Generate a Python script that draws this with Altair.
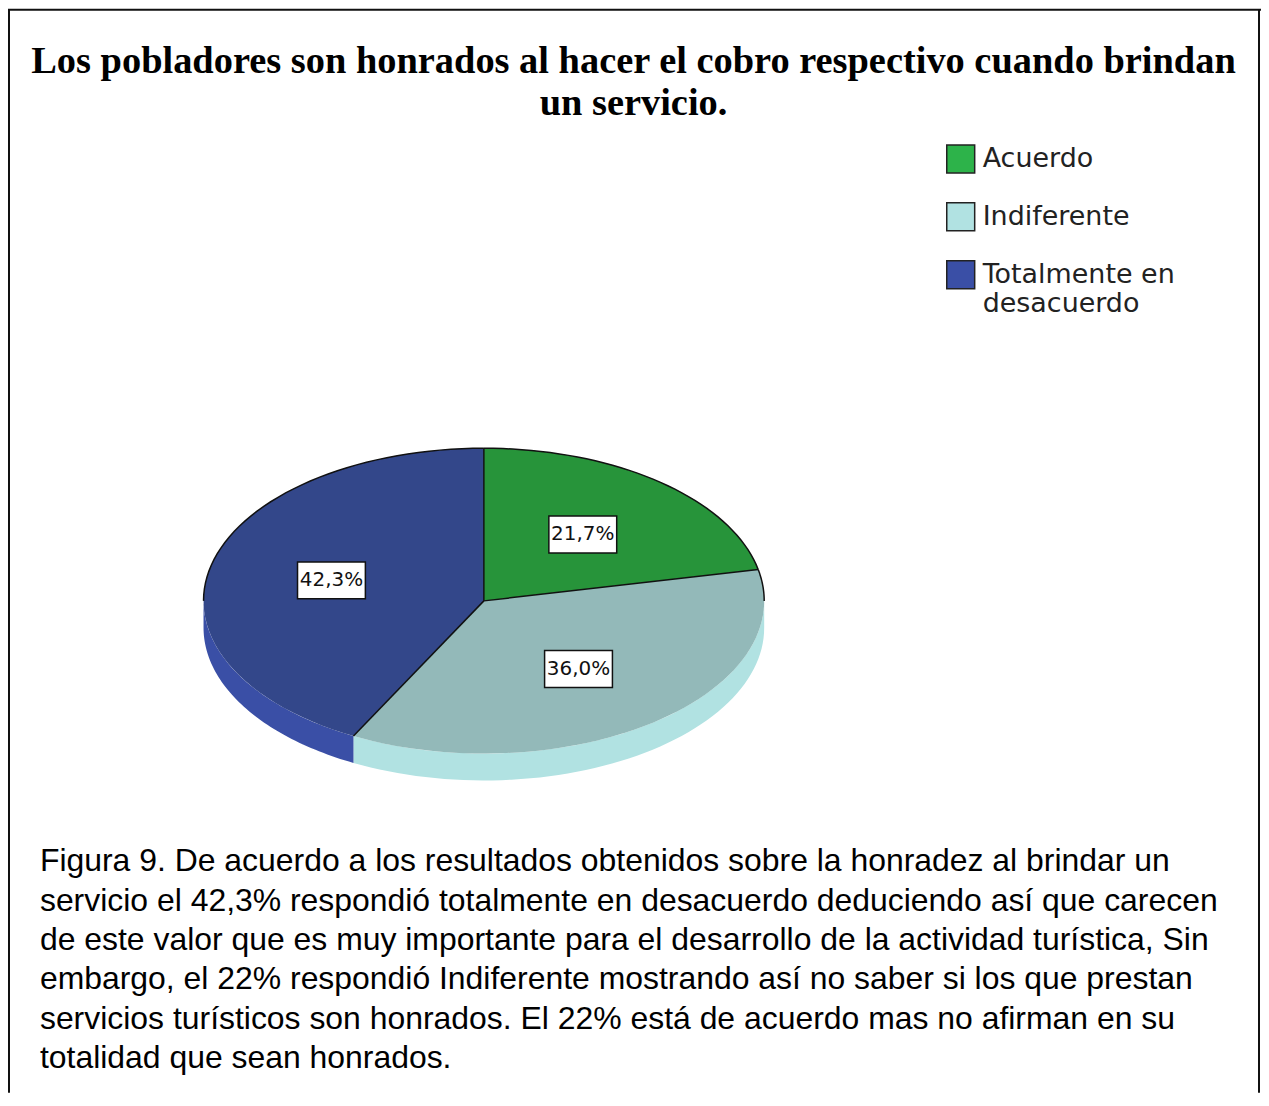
import altair as alt
import pandas as pd

# ---- data ----
categories = ["Acuerdo", "Indiferente", "Totalmente en desacuerdo"]
values = [21.7, 36.0, 42.3]
value_labels = ["21,7%", "36,0%", "42,3%"]
top_colors = ["#27943a", "#93b9b9", "#33478a"]
legend_colors = ["#2db34a", "#b1e2e2", "#3a4fa6"]

title_lines = [
    "Los pobladores son honrados al hacer el cobro respectivo cuando brindan",
    "un servicio.",
]
caption_lines = [
    "Figura 9. De acuerdo a los resultados obtenidos sobre la honradez al brindar un",
    "servicio el 42,3% respondió totalmente en desacuerdo deduciendo así que carecen",
    "de este valor que es muy importante para el desarrollo de la actividad turística, Sin",
    "embargo, el 22% respondió Indiferente mostrando así no saber si los que prestan",
    "servicios turísticos son honrados. El 22% está de acuerdo mas no afirman en su",
    "totalidad que sean honrados.",
]

# ---- layout ----
W, H = 1256, 1086
CX, CY = 477, 593      # pie centre (px in chart)
RX, RY = 281, 153      # ellipse radii (px)
DEPTH = 27 / RY        # side thickness in y units

xscale = alt.Scale(domain=[-CX / RX, (W - CX) / RX], nice=False, zero=False)
yscale = alt.Scale(domain=[-(H - CY) / RY, CY / RY], nice=False, zero=False)

df = pd.DataFrame({
    "category": categories,
    "value": values,
    "label": value_labels,
    "order": list(range(len(categories))),
})

base = alt.Chart(df).transform_window(
    cum="sum(value)", sort=[{"field": "order"}], frame=[None, 0]
).transform_calculate(
    a0="(datum.cum - datum.value) / 100 * 2 * PI",
    a1="datum.cum / 100 * 2 * PI",
)

X = alt.X("px:Q", scale=xscale, axis=None)
Y = alt.Y("py:Q", scale=yscale, axis=None)

# side (3D band) for the front half of the ellipse
side = base.transform_calculate(
    s0="max(datum.a0, PI / 2)", s1="min(datum.a1, 3 * PI / 2)"
).transform_filter("datum.s1 > datum.s0").transform_calculate(
    k="sequence(0, 122)"
).transform_flatten(["k"]).transform_calculate(
    ang="datum.k <= 60 ? datum.s0 + (datum.s1 - datum.s0) * datum.k / 60 : datum.s1 - (datum.s1 - datum.s0) * (datum.k - 61) / 60",
    px="sin(datum.ang)",
    py=f"cos(datum.ang) - (datum.k <= 60 ? 0 : {DEPTH})",
).mark_line(strokeOpacity=0, strokeWidth=0).encode(
    x=X, y=Y,
    fill=alt.Fill(
        "category:N",
        scale=alt.Scale(domain=categories, range=legend_colors),
        legend=alt.Legend(
            title=None, orient="none", legendX=940, legendY=135,
            symbolType="square", symbolSize=784, symbolStrokeColor="#222",
            symbolStrokeWidth=1.5, symbolOpacity=1,
            labelFont="DejaVu Sans", labelFontSize=27, labelColor="#222",
            labelOffset=7, labelLimit=0, rowPadding=24, padding=0,
            labelExpr="datum.label == 'Totalmente en desacuerdo' ? ['Totalmente en', 'desacuerdo'] : datum.label",
        ),
    ),
    detail="category:N",
    order="k:Q",
)

# top surface slices
top = base.transform_calculate(k="sequence(0, 63)").transform_flatten(["k"]).transform_calculate(
    ang="datum.a0 + (datum.a1 - datum.a0) * (datum.k - 1) / 60",
    px="(datum.k == 0 || datum.k == 62) ? 0 : sin(datum.ang)",
    py="(datum.k == 0 || datum.k == 62) ? 0 : cos(datum.ang)",
).mark_line(strokeOpacity=0, strokeWidth=0).encode(
    x=X, y=Y,
    fill=alt.Fill("category:N", scale=alt.Scale(domain=categories, range=top_colors), legend=None),
    detail="category:N",
    order="k:Q",
)

# back outline of the ellipse
arc = base.transform_calculate(seg="[0, 1]").transform_flatten(["seg"]).transform_calculate(
    b0="datum.seg == 0 ? max(datum.a0, 0) : max(datum.a0, 3 * PI / 2)",
    b1="datum.seg == 0 ? min(datum.a1, PI / 2) : min(datum.a1, 2 * PI)",
).transform_filter("datum.b1 > datum.b0").transform_calculate(
    k="sequence(0, 41)"
).transform_flatten(["k"]).transform_calculate(
    ang="datum.b0 + (datum.b1 - datum.b0) * datum.k / 40",
    px="sin(datum.ang)", py="cos(datum.ang)",
    grp="datum.category + '-' + datum.seg",
).mark_line(color="#111", strokeWidth=1.5).encode(
    x=X, y=Y, detail="grp:N", order="k:Q"
)

# radial slice edges
edges = base.transform_calculate(k="[0, 1]").transform_flatten(["k"]).transform_calculate(
    px="datum.k == 0 ? 0 : sin(datum.a0)",
    py="datum.k == 0 ? 0 : cos(datum.a0)",
).mark_line(color="#111", strokeWidth=1.5).encode(
    x=X, y=Y, detail="category:N", order="k:Q"
)

# value labels
lab = base.transform_calculate(
    mid="(datum.a0 + datum.a1) / 2",
    px="0.56 * sin(datum.mid)",
    py="0.56 * cos(datum.mid)",
)
boxes = lab.mark_rect(width=68, height=37, fill="white", stroke="#111", strokeWidth=1.5).encode(x=X, y=Y)
texts = lab.mark_text(font="DejaVu Sans", fontSize=20, color="#111").encode(x=X, y=Y, text="label:N")

# title and caption
one = pd.DataFrame({"i": [0]})
title = alt.Chart(one).mark_text(
    text=title_lines, font="Liberation Serif", fontWeight="bold", fontSize=38.5,
    lineHeight=42, align="center", baseline="alphabetic", color="#000",
).encode(x=alt.value(627), y=alt.value(64))

caption = alt.Chart(one).mark_text(
    text=caption_lines, font="Liberation Sans", fontSize=32,
    lineHeight=39.5, align="left", baseline="alphabetic", color="#000",
).encode(x=alt.value(32), y=alt.value(864))

# frame
frame_top = alt.Chart(one).mark_rule(color="#111", strokeWidth=2).encode(
    x=alt.value(0), x2=alt.value(1256), y=alt.value(0.5))
frame_left = alt.Chart(one).mark_rule(color="#111", strokeWidth=2).encode(
    x=alt.value(1), y=alt.value(0), y2=alt.value(H))
frame_right = alt.Chart(one).mark_rule(color="#111", strokeWidth=2).encode(
    x=alt.value(1254), y=alt.value(0), y2=alt.value(H))

chart = alt.layer(
    side, top, arc, edges, boxes, texts, title, caption, frame_top, frame_left, frame_right
).resolve_scale(fill="independent").properties(
    width=W, height=H, padding=0, autosize=alt.AutoSizeParams(type="none"), background="white"
).configure_view(stroke=None)

chart.save("out.html", embed_options={"renderer": "svg", "actions": False})
